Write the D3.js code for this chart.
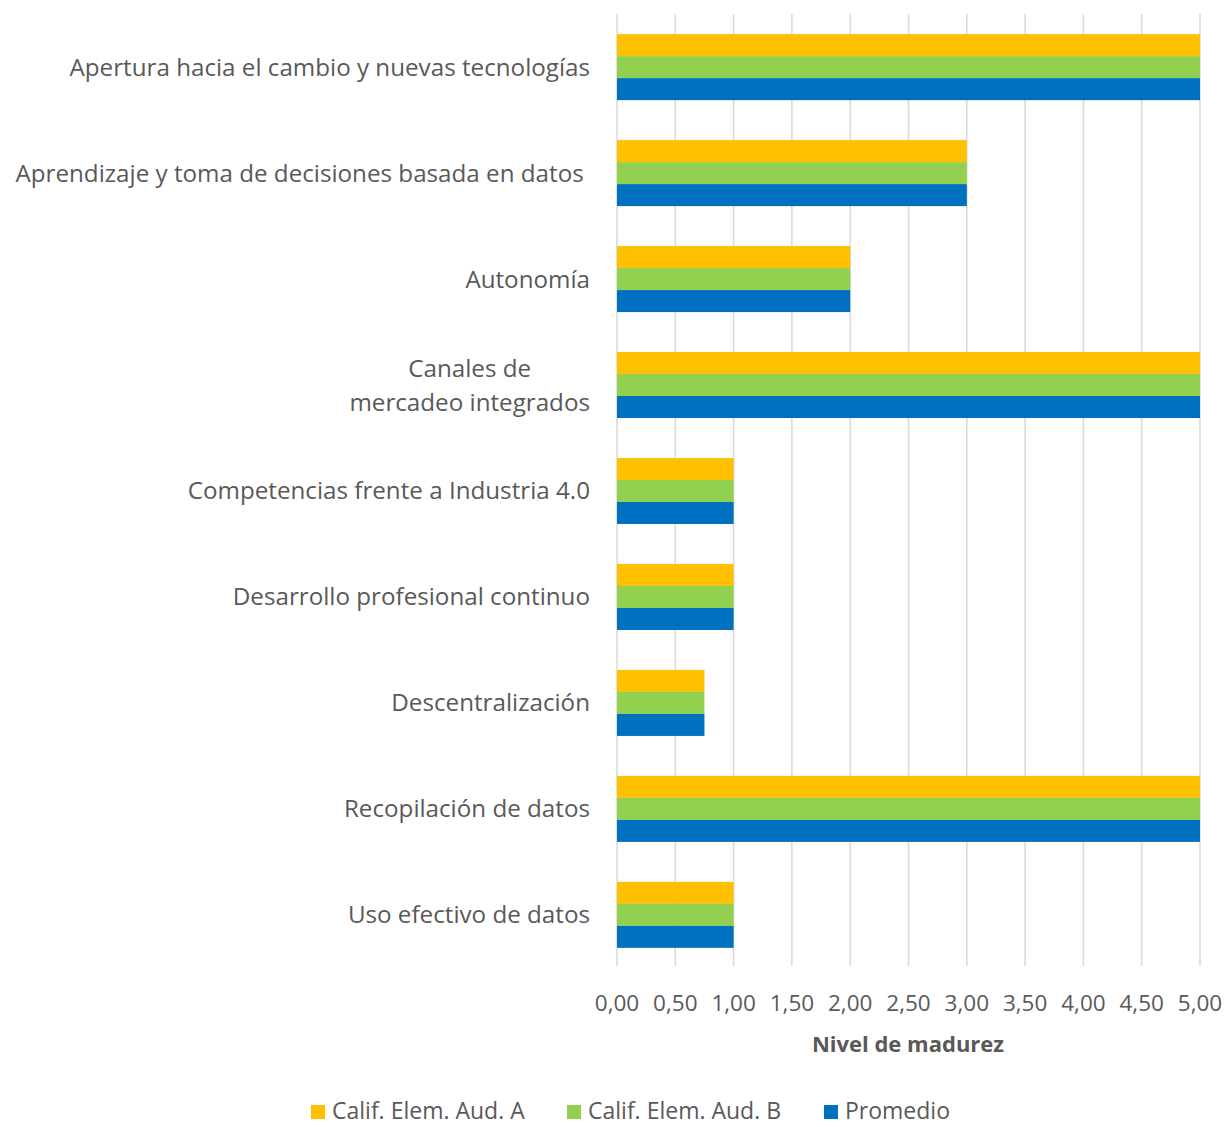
<!DOCTYPE html>
<meta charset="utf-8">
<title>Nivel de madurez</title>
<style>
  body { margin: 0; background: #fff; }
  text { font-family: "Open Sans", "Noto Sans", sans-serif; fill: #595959; }
</style>
<svg width="1225" height="1127"></svg>
<script src="https://cdn.jsdelivr.net/npm/d3@7"></script>
<script>

  var categories = [
    ["Apertura hacia el cambio y nuevas tecnologías"],
    ["Aprendizaje y toma de decisiones basada en datos\u00a0"],
    ["Autonomía"],
    ["Canales de", "mercadeo integrados"],
    ["Competencias frente a Industria 4.0"],
    ["Desarrollo profesional continuo"],
    ["Descentralización"],
    ["Recopilación de datos"],
    ["Uso efectivo de datos"]
  ];
  var seriesNames = ["Calif. Elem. Aud. A", "Calif. Elem. Aud. B", "Promedio"];
  var audA     = [5, 3, 2, 5, 1, 1, 0.75, 5, 1];
  var audB     = [5, 3, 2, 5, 1, 1, 0.75, 5, 1];
  var promedio = [5, 3, 2, 5, 1, 1, 0.75, 5, 1];
  var tickValues = [0, 0.5, 1, 1.5, 2, 2.5, 3, 3.5, 4, 4.5, 5];
  var colors = ["#FFC000", "#92D050", "#0070C0"];

  var values = [audA, audB, promedio];

  var svg = d3.select("svg");

  var x = d3.scaleLinear().domain([0, 5]).range([617, 1200]);

  var y = d3.scaleBand()
      .domain(d3.range(categories.length))
      .range([14, 968])
      .paddingInner(0.377)
      .paddingOuter(0.19);

  var ySeries = d3.scaleBand()
      .domain(d3.range(seriesNames.length))
      .range([0, y.bandwidth()]);

  // gridlines
  svg.append("g")
      .selectAll("line")
      .data(tickValues)
      .enter().append("line")
      .attr("x1", function(d) { return x(d); })
      .attr("x2", function(d) { return x(d); })
      .attr("y1", 14)
      .attr("y2", 966)
      .attr("stroke", "#D9D9D9")
      .attr("stroke-width", 1.5);

  // bars
  var groups = svg.append("g")
      .selectAll("g")
      .data(d3.range(categories.length))
      .enter().append("g")
      .attr("transform", function(i) { return "translate(0," + y(i) + ")"; });

  groups.selectAll("rect")
      .data(function(i) { return values.map(function(s, k) { return { k: k, v: s[i] }; }); })
      .enter().append("rect")
      .attr("x", x(0))
      .attr("y", function(d) { return ySeries(d.k); })
      .attr("width", function(d) { return x(d.v) - x(0); })
      .attr("height", ySeries.bandwidth())
      .attr("fill", function(d) { return colors[d.k]; });

  // category labels
  var labelRight = 590;
  categories.forEach(function(lines, i) {
    var cy = y(i) + y.bandwidth() / 2;
    var lh = 34;
    var g = svg.append("g");
    var texts = lines.map(function(line, j) {
      return g.append("text")
          .attr("y", cy + (j - (lines.length - 1) / 2) * lh)
          .attr("dy", "0.35em")
          .attr("font-size", 24.2)
          .style("white-space", "pre")
          .text(line);
    });
    var maxW = d3.max(texts, function(t) { return t.node().getComputedTextLength(); });
    texts.forEach(function(t) {
      t.attr("x", labelRight - maxW / 2).attr("text-anchor", "middle");
    });
  });

  // x tick labels
  svg.append("g")
      .selectAll("text")
      .data(tickValues)
      .enter().append("text")
      .attr("x", function(d) { return x(d); })
      .attr("y", 1003)
      .attr("dy", "0.35em")
      .attr("text-anchor", "middle")
      .attr("font-size", 22.5)
      .text(function(d) { return d.toFixed(2).replace(".", ","); });

  svg.append("text")
      .attr("x", 908)
      .attr("y", 1044)
      .attr("dy", "0.35em")
      .attr("text-anchor", "middle")
      .attr("font-size", 22)
      .attr("font-weight", "bold")
      .text("Nivel de madurez");

  // legend
  var legendX = [311, 567, 824];
  var legend = svg.append("g")
      .selectAll("g")
      .data(seriesNames)
      .enter().append("g")
      .attr("transform", function(d, i) { return "translate(" + legendX[i] + ",1111)"; });

  legend.append("rect")
      .attr("x", 0)
      .attr("y", -6)
      .attr("width", 14)
      .attr("height", 14)
      .attr("fill", function(d, i) { return colors[i]; });

  legend.append("text")
      .attr("x", 21)
      .attr("dy", "0.35em")
      .attr("font-size", 23)
      .text(function(d) { return d; });

</script>
